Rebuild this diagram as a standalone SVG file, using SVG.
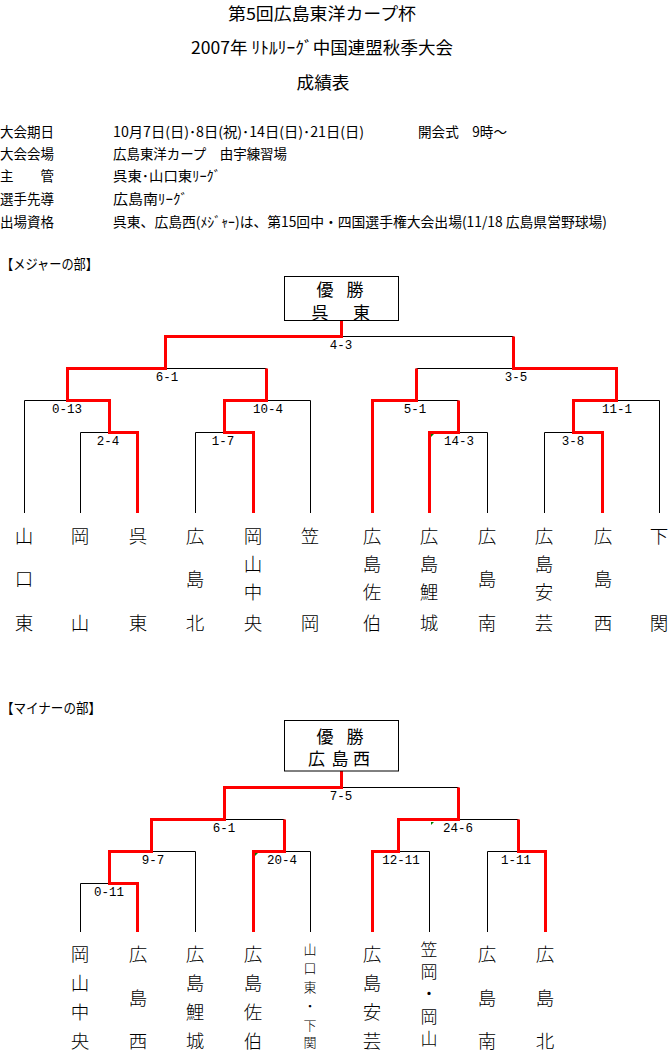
<svg xmlns="http://www.w3.org/2000/svg" width="668" height="1052" viewBox="0 0 668 1052">
<style>
text{font-family:"Noto Sans CJK JP","Liberation Sans",sans-serif;fill:#000;dominant-baseline:central}
.t{font-size:17px;text-anchor:middle}
.t1{font-size:16.5px;text-anchor:middle}
.i{font-size:14px}
.h{font-size:14px}
.w{font-size:17px;text-anchor:middle}
.n{font-size:18.5px;text-anchor:middle;font-weight:300}
.nk{font-size:17px;font-weight:300;writing-mode:vertical-rl;letter-spacing:5.2px}
.ns{font-size:13px;text-anchor:middle;font-weight:300}
.s{font-family:"Liberation Mono","DejaVu Sans Mono",monospace;font-size:12.5px;text-anchor:middle}
.lose{fill:none;stroke:#000;stroke-width:1}
.win{fill:none;stroke:#ff0000;stroke-width:3;stroke-linejoin:miter}
.box{fill:#fff;stroke:#000;stroke-width:1}
.mark{fill:#008000}
</style>
<rect width="668" height="1052" fill="#fff"/>
<g id="header">
<text class="t1" x="322" y="13" textLength="188" lengthAdjust="spacingAndGlyphs">第5回広島東洋カープ杯</text>
<text class="t" x="322" y="46" textLength="262" lengthAdjust="spacingAndGlyphs">2007年 ﾘﾄﾙﾘｰｸﾞ中国連盟秋季大会</text>
<text class="t" x="323" y="81" textLength="53" lengthAdjust="spacingAndGlyphs">成績表</text>
</g>
<g id="info">
<text class="i" x="0" y="131" textLength="54" lengthAdjust="spacingAndGlyphs">大会期日</text>
<text class="i" x="113" y="131" textLength="251" lengthAdjust="spacingAndGlyphs">10月7日(日)･8日(祝)･14日(日)･21日(日)</text>
<text class="i" x="418" y="131" textLength="89" lengthAdjust="spacingAndGlyphs">開会式　9時～</text>
<text class="i" x="0" y="153" textLength="54" lengthAdjust="spacingAndGlyphs">大会会場</text>
<text class="i" x="113" y="153" textLength="174" lengthAdjust="spacingAndGlyphs">広島東洋カープ　由宇練習場</text>
<text class="i" x="0" y="175" textLength="54" lengthAdjust="spacingAndGlyphs">主　　管</text>
<text class="i" x="113" y="175" textLength="108" lengthAdjust="spacingAndGlyphs">呉東･山口東ﾘｰｸﾞ</text>
<text class="i" x="0" y="198" textLength="54" lengthAdjust="spacingAndGlyphs">選手先導</text>
<text class="i" x="113" y="198" textLength="75" lengthAdjust="spacingAndGlyphs">広島南ﾘｰｸﾞ</text>
<text class="i" x="0" y="221" textLength="54" lengthAdjust="spacingAndGlyphs">出場資格</text>
<text class="i" x="113" y="221" textLength="494" lengthAdjust="spacingAndGlyphs">呉東、広島西(ﾒｼﾞｬｰ)は、第15回中・四国選手権大会出場(11/18 広島県営野球場)</text>
</g>
<g id="major-title"><text class="h" x="1" y="263" textLength="97" lengthAdjust="spacingAndGlyphs">【メジャーの部】</text></g>
<g id="minor-title"><text class="h" x="1" y="707" textLength="100" lengthAdjust="spacingAndGlyphs">【マイナーの部】</text></g>

<g id="connectors">
<path class="lose" d="M341.5 336.5H513.5M165.5 368.5H266.5M416.5 368.5H513.5M24.5 513V400.5H67.5M266.5 400.5H310.5V513M416.5 400.5H458.5M616.5 400.5H659.5V513M80.5 513V432.5H109.5M195.5 513V432.5H224.5M458.5 432.5H487.5V513M544.5 513V432.5H573.5"/>
<path class="win" d="M341.5 320.5V336.5H165.5V368.5H67.5V400.5H109.5V432.5H137.5V513M266.5 368.5V400.5H224.5V432.5H253.5V513M513.5 336.5V368.5H616.5V400.5H573.5V432.5H602.5V513M416.5 368.5V400.5H372.5V513M458.5 400.5V432.5H429.5V513"/>
<path class="lose" d="M341.5 787.5H458.5M224.5 819.5H284.5M458.5 819.5H518.5M151.5 851.5H195.5V932M284.5 851.5H310.5V932M398.5 851.5H429.5V932M487.5 932V851.5H518.5M80.5 932V883.5H109.5"/>
<path class="win" d="M341.5 771V787.5H224.5V819.5H151.5V851.5H109.5V883.5H137.5V932M284.5 819.5V851.5H253.5V932M458.5 787.5V819.5H398.5V851.5H372.5V932M518.5 819.5V851.5H545.5V932"/>
<polygon class="mark" points="431,434 434,434 431,437"/>
<polygon class="mark" points="255,853 258,853 255,856"/>
<polygon class="mark" points="431,822 434,822 431,825"/>
</g>

<g id="scores">
<text class="s" x="341" y="345.5">4-3</text>
<text class="s" x="167" y="377.5">6-1</text>
<text class="s" x="516" y="377.5">3-5</text>
<text class="s" x="67" y="409.5">0-13</text>
<text class="s" x="268" y="409.5">10-4</text>
<text class="s" x="415" y="409.5">5-1</text>
<text class="s" x="617" y="409.5">11-1</text>
<text class="s" x="108" y="441.5">2-4</text>
<text class="s" x="223" y="441.5">1-7</text>
<text class="s" x="459" y="441.5">14-3</text>
<text class="s" x="573" y="441.5">3-8</text>
<text class="s" x="341" y="796.5">7-5</text>
<text class="s" x="224" y="828.5">6-1</text>
<text class="s" x="458" y="828.5">24-6</text>
<text class="s" x="153" y="860.5">9-7</text>
<text class="s" x="282" y="860.5">20-4</text>
<text class="s" x="401" y="860.5">12-11</text>
<text class="s" x="516" y="860.5">1-11</text>
<text class="s" x="109" y="892.5">0-11</text>
</g>

<g id="major-champion">
<rect class="box" x="284.5" y="276.5" width="114" height="44"/>
<text class="w" x="325" y="288">優</text><text class="w" x="355" y="288">勝</text>
<text class="w" x="320" y="311">呉</text><text class="w" x="361.5" y="311">東</text>
</g>
<g id="minor-champion">
<rect class="box" x="284.5" y="720.5" width="114" height="50.5"/>
<text class="w" x="325" y="735">優</text><text class="w" x="355" y="735">勝</text>
<text class="w" x="316.5" y="757.5">広</text><text class="w" x="340" y="757.5">島</text><text class="w" x="361.5" y="757.5">西</text>
</g>

<g id="major-teams">
<g id="m-yamaguchihigashi"><text class="n" x="24" y="535">山</text><text class="n" x="24" y="578">口</text><text class="n" x="24" y="622">東</text></g>
<g id="m-okayama"><text class="n" x="80" y="535">岡</text><text class="n" x="80" y="622">山</text></g>
<g id="m-kurehigashi"><text class="n" x="138" y="535">呉</text><text class="n" x="138" y="622">東</text></g>
<g id="m-hiroshimakita"><text class="n" x="195" y="535">広</text><text class="n" x="195" y="578">島</text><text class="n" x="195" y="622">北</text></g>
<g id="m-okayamachuo"><text class="n" x="253" y="535">岡</text><text class="n" x="253" y="563">山</text><text class="n" x="253" y="591">中</text><text class="n" x="253" y="622">央</text></g>
<g id="m-kasaoka"><text class="n" x="310" y="535">笠</text><text class="n" x="310" y="622">岡</text></g>
<g id="m-hiroshimasaeki"><text class="n" x="372" y="535">広</text><text class="n" x="372" y="563">島</text><text class="n" x="372" y="591">佐</text><text class="n" x="372" y="622">伯</text></g>
<g id="m-hiroshimarijo"><text class="n" x="429" y="535">広</text><text class="n" x="429" y="563">島</text><text class="n" x="429" y="591">鯉</text><text class="n" x="429" y="622">城</text></g>
<g id="m-hiroshimaminami"><text class="n" x="487" y="535">広</text><text class="n" x="487" y="578">島</text><text class="n" x="487" y="622">南</text></g>
<g id="m-hiroshimaaki"><text class="n" x="544" y="535">広</text><text class="n" x="544" y="563">島</text><text class="n" x="544" y="591">安</text><text class="n" x="544" y="622">芸</text></g>
<g id="m-hiroshimanishi"><text class="n" x="603" y="535">広</text><text class="n" x="603" y="578">島</text><text class="n" x="603" y="622">西</text></g>
<g id="m-shimonoseki"><text class="n" x="659" y="535">下</text><text class="n" x="659" y="622">関</text></g>
</g>

<g id="minor-teams">
<g id="n-okayamachuo"><text class="n" x="80" y="953">岡</text><text class="n" x="80" y="982">山</text><text class="n" x="80" y="1011">中</text><text class="n" x="80" y="1039.5">央</text></g>
<g id="n-hiroshimanishi"><text class="n" x="138" y="953">広</text><text class="n" x="138" y="997">島</text><text class="n" x="138" y="1039.5">西</text></g>
<g id="n-hiroshimarijo"><text class="n" x="195" y="953">広</text><text class="n" x="195" y="982">島</text><text class="n" x="195" y="1011">鯉</text><text class="n" x="195" y="1039.5">城</text></g>
<g id="n-hiroshimasaeki"><text class="n" x="253" y="953">広</text><text class="n" x="253" y="982">島</text><text class="n" x="253" y="1011">佐</text><text class="n" x="253" y="1039.5">伯</text></g>
<g id="n-yamaguchi-shimonoseki"><text class="ns" x="310" y="948">山</text><text class="ns" x="310" y="967">口</text><text class="ns" x="310" y="986">東</text><text class="ns" x="310" y="1005">・</text><text class="ns" x="310" y="1024">下</text><text class="ns" x="310" y="1041.5">関</text></g>
<g id="n-hiroshimaaki"><text class="n" x="372" y="953">広</text><text class="n" x="372" y="982">島</text><text class="n" x="372" y="1011">安</text><text class="n" x="372" y="1039.5">芸</text></g>
<g id="n-kasaoka-okayama"><text class="nk" x="429" y="941">笠岡・岡山</text></g>
<g id="n-hiroshimaminami"><text class="n" x="487" y="953">広</text><text class="n" x="487" y="997">島</text><text class="n" x="487" y="1039.5">南</text></g>
<g id="n-hiroshimakita"><text class="n" x="545" y="953">広</text><text class="n" x="545" y="997">島</text><text class="n" x="545" y="1039.5">北</text></g>
</g>
</svg>
